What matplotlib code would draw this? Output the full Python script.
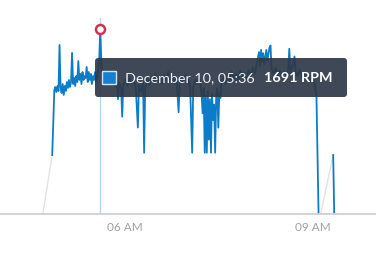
import matplotlib
matplotlib.use("Agg")
import matplotlib.pyplot as plt
import matplotlib.dates as mdates
import pandas as pd
from matplotlib.patches import FancyBboxPatch, Rectangle
from matplotlib.transforms import IdentityTransform

day = "2023-12-10 "

# main (blue) series, RPM readings
blue_times = [
    "04:50", "04:52", "04:53", "04:54", "04:55", "04:56", "04:57", "04:58", "04:59",
    "05:00", "05:01", "05:02", "05:03", "05:04", "05:05", "05:06", "05:07", "05:08",
    "05:09", "05:10", "05:11", "05:12", "05:13", "05:14", "05:15", "05:16", "05:17",
    "05:18", "05:19", "05:20", "05:21", "05:22", "05:23", "05:24", "05:25", "05:26",
    "05:27", "05:28", "05:29", "05:30", "05:31", "05:32", "05:33", "05:34", "05:35",
    "05:36", "05:37", "05:38", "05:39", "05:40", "05:42", "05:44", "05:46", "05:48",
    "05:50", "05:52", "05:53", "05:54", "05:56", "05:57", "05:58", "06:00", "06:02",
    "06:04", "06:06", "06:08", "06:10", "06:12", "06:13", "06:15", "06:17", "06:18",
    "06:19", "06:21", "06:23", "06:25", "06:27", "06:29", "06:31", "06:33", "06:35",
    "06:37", "06:39", "06:41", "06:43", "06:45", "06:47", "06:49", "06:51", "06:52",
    "06:54", "06:56", "06:58", "07:00", "07:02", "07:04", "07:05", "07:07", "07:09",
    "07:11", "07:13", "07:14", "07:15", "07:16", "07:17", "07:18", "07:19", "07:20",
    "07:21", "07:22", "07:23", "07:24", "07:25", "07:26", "07:27", "07:28", "07:29",
    "07:30", "07:31", "07:32", "07:34", "07:36", "07:38", "07:40", "07:42", "07:44",
    "07:46", "07:48", "07:50", "07:52", "07:54", "07:56", "07:58", "08:00", "08:02",
    "08:04", "08:06", "08:08", "08:09", "08:10", "08:11", "08:12", "08:13", "08:15",
    "08:16", "08:17", "08:18", "08:19", "08:20", "08:22", "08:24", "08:26", "08:28",
    "08:30", "08:32", "08:34", "08:36", "08:37", "08:38", "08:40", "08:42", "08:43",
    "08:45", "08:47", "08:49", "08:51", "08:53", "08:55", "08:57", "08:59", "09:01",
    "09:03", "09:04", "09:05",
]
blue_rpm = [
    539, 1133, 1161, 1115, 1170, 1124, 1545, 1152, 1106,
    1188, 1088, 1170, 1124, 1206, 1152, 1225, 1161, 1206,
    1472, 1188, 1243, 1170, 1261, 1206, 1398, 1225, 1280,
    1188, 1298, 1225, 1261, 1243, 1344, 1206, 1298, 1225,
    1280, 1188, 1261, 1225, 1298, 1206, 1261, 1316, 1408,
    1691, 1389, 1243, 1188, 1280, 1210, 1260, 1190, 1240,
    1170, 1220, 1050, 1200, 1150, 890, 1180, 1230, 1170,
    1250, 1190, 1220, 1160, 790, 1180, 1120, 1200, 560,
    1150, 1230, 1180, 1260, 1200, 1280, 1210, 1250, 1190,
    1270, 1220, 1300, 1230, 1260, 1190, 1240, 930, 1200,
    1260, 1210, 1280, 1230, 1170, 560, 1160, 1230, 1190,
    1250, 1100, 920, 1150, 560, 1080, 560, 1120, 680,
    1050, 560, 1100, 860, 1000, 560, 1090, 1150, 790,
    1100, 1060, 1200, 1250, 1190, 1270, 1220, 1300, 1240,
    1280, 1220, 1310, 1250, 1290, 1230, 1320, 1260, 1340,
    1280, 1380, 1480, 1350, 1500, 1390, 1470, 1370, 1500,
    1400, 1460, 1520, 1540, 1330, 1280, 1340, 1260, 1310,
    1240, 1300, 1250, 1330, 1510, 1290, 1350, 1440, 1300,
    1260, 1320, 1250, 1290, 1230, 1280, 1220, 1270, 1200,
    1070, 560, 0,
]
# short blue burst after the gap
tail_times = ["09:19", "09:20"]
tail_rpm = [539, 0]

# grey connectors across missing data
gap1_times = ["04:41", "04:50"]
gap1_rpm = [0, 539]
gap2_times = ["09:07", "09:19"]
gap2_rpm = [0, 539]

hover_time = "05:36"
hover_rpm = 1691
hover_label = "December 10, 05:36"
hover_value = "1691 RPM"


def to_dt(ts):
    return pd.to_datetime([day + t for t in ts])


plt.rcParams["font.family"] = ["Lato", "DejaVu Sans"]

fig = plt.figure(figsize=(3.76, 2.56), dpi=100)
ax = fig.add_axes([0, 42 / 256, 1, 214 / 256])

line_blue = "#0b7dc8"
ax.plot(to_dt(gap1_times), gap1_rpm, color="#e2e2e2", lw=1.0)
ax.plot(to_dt(gap2_times), gap2_rpm, color="#e2e2e2", lw=1.0)
ax.plot(to_dt(blue_times), blue_rpm, color=line_blue, lw=1.3)
ax.plot(to_dt(tail_times), tail_rpm, color=line_blue, lw=1.3)

ax.set_xlim(pd.Timestamp(day + "04:00"), pd.Timestamp(day + "10:00"))
ax.set_ylim(0, 1956)

# hover guide + marker
hx = pd.Timestamp(day + hover_time)
ax.axvline(hx, ymin=0, ymax=(214 - 18) / 214, color="#b5d8ef", lw=1.0, zorder=1)
ax.plot([hx], [hover_rpm], "o", ms=6.5, mfc="white", mec="#d23250", mew=1.8, zorder=5,
        clip_on=False)

for s in ["top", "left", "right"]:
    ax.spines[s].set_visible(False)
ax.spines["bottom"].set_color("#d0d0d0")
ax.spines["bottom"].set_linewidth(1.3)
ax.set_yticks([])
ax.xaxis.set_major_locator(mdates.HourLocator(byhour=[6, 9]))
ax.xaxis.set_major_formatter(mdates.DateFormatter("%I %p"))
ax.tick_params(axis="x", length=0, pad=6, labelsize=8.5, labelcolor="#a0a0a0")
ax.patch.set_alpha(0)

# tooltip (pixel coordinates, origin bottom-left)
H = 256
tip = FancyBboxPatch((95, H - 97), 252, 39, boxstyle="round,pad=0,rounding_size=3",
                     transform=IdentityTransform(), facecolor="#2e3847", edgecolor="none",
                     alpha=0.92, zorder=10)
fig.add_artist(tip)
sq = Rectangle((102, H - 84), 14, 13, transform=IdentityTransform(),
               facecolor="#1580d2", edgecolor="#cfe3f4", lw=1.0, zorder=11)
fig.add_artist(sq)
fig.text(125 / 376, 1 - 78 / 256, hover_label, color="#eef1f4", fontsize=10.4,
         va="center", ha="left", zorder=12)
fig.text(264 / 376, 1 - 78 / 256, hover_value, color="#ffffff", fontsize=10.4,
         fontweight="bold", va="center", ha="left", zorder=12)

fig.savefig("out.png", dpi=100)
